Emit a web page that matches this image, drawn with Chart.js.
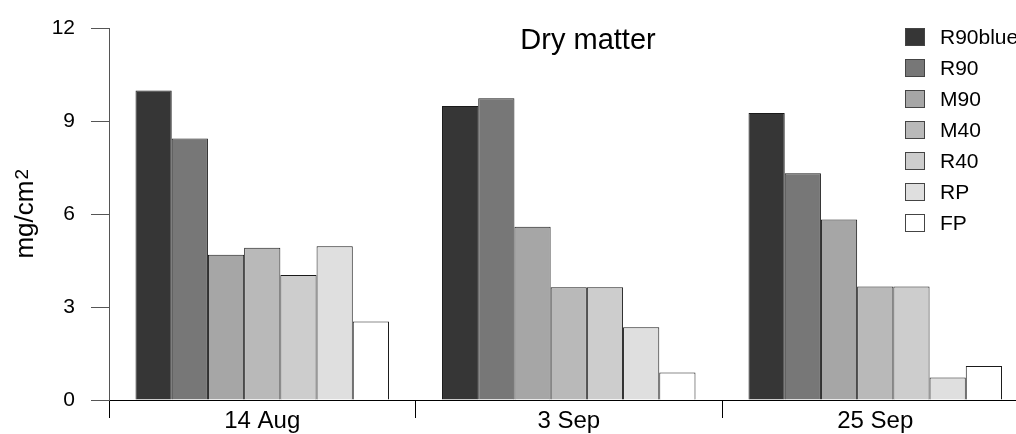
<!DOCTYPE html>
<html>
<head>
<meta charset="utf-8">
<script src="https://cdn.jsdelivr.net/npm/chart.js@4/dist/chart.umd.min.js"></script>
<style>
  html, body { margin: 0; padding: 0; background: #fff; overflow: hidden; }
  #wrap { width: 1016px; height: 434px; overflow: hidden; }
</style>
</head>
<body>
<div id="wrap"><canvas id="chart" width="1040" height="434"></canvas></div>
<script>
const dates = ["14 Aug", "3 Sep", "25 Sep"];
const seriesNames = ["R90blue", "R90", "M90", "M40", "R40", "RP", "FP"];
const seriesColors = ["#363636", "#777777", "#a6a6a6", "#b9b9b9", "#cdcdcd", "#dfdfdf", "#ffffff"];
const r90blue = [10.0, 9.5, 9.27];
const r90 = [8.45, 9.75, 7.33];
const m90 = [4.69, 5.6, 5.83];
const m40 = [4.92, 3.64, 3.67];
const r40 = [4.04, 3.64, 3.67];
const rp = [4.97, 2.35, 0.73];
const fp = [2.54, 0.89, 1.1];
const yTicks = [0, 3, 6, 9, 12];
const chartTitle = "Dry matter";
const yLabel = "mg/cm";
const yLabelSup = "2";

const seriesValues = [r90blue, r90, m90, m40, r40, rp, fp];
const font = "'Liberation Sans', Arial, sans-serif";

const datasets = seriesNames.map((name, i) => ({
    label: name,
    data: seriesValues[i],
    backgroundColor: seriesColors[i],
    borderColor: "#1a1a1a",
    borderWidth: 1,
    barPercentage: 1.0,
    categoryPercentage: 0.827,
}));

// title, legend and y axis label drawn by hand
const overlay = {
    id: "overlay",
    afterDraw(chart) {
        const ctx = chart.ctx;
        const area = chart.chartArea;
        ctx.save();
        ctx.fillStyle = "#000";
        ctx.font = "29px " + font;
        ctx.textAlign = "center";
        ctx.textBaseline = "alphabetic";
        ctx.fillText(chartTitle, 588, 49);

        ctx.font = "21px " + font;
        ctx.textAlign = "left";
        ctx.textBaseline = "middle";
        chart.data.datasets.forEach((ds, i) => {
            const y = 37 + i * 31;
            ctx.fillStyle = ds.backgroundColor;
            ctx.fillRect(905.5, y - 8.5, 19, 17);
            ctx.strokeStyle = "#444";
            ctx.lineWidth = 1;
            ctx.strokeRect(905.5, y - 8.5, 19, 17);
            ctx.fillStyle = "#000";
            ctx.fillText(ds.label, 940, y + 1);
        });

        // y axis label with superscript
        ctx.translate(33, (area.top + area.bottom) / 2);
        ctx.rotate(-Math.PI / 2);
        ctx.textBaseline = "alphabetic";
        ctx.textAlign = "left";
        ctx.font = "26px " + font;
        const w1 = ctx.measureText(yLabel).width;
        ctx.font = "19px " + font;
        const w2 = ctx.measureText(yLabelSup).width;
        const start = -(w1 + w2) / 2;
        ctx.font = "26px " + font;
        ctx.fillText(yLabel, start, 0);
        ctx.font = "19px " + font;
        ctx.fillText(yLabelSup, start + w1 + 1, -5);
        ctx.restore();
    }
};

new Chart(document.getElementById("chart"), {
    type: "bar",
    data: { labels: dates, datasets: datasets },
    options: {
        responsive: false,
        animation: false,
        devicePixelRatio: 1,
        layout: { padding: { top: 26, right: 11.5, left: 0, bottom: 0 } },
        plugins: {
            legend: { display: false },
            tooltip: { enabled: false },
        },
        scales: {
            x: {
                offset: true,
                grid: {
                    offset: true,
                    drawOnChartArea: false,
                    drawTicks: true,
                    tickLength: 18,
                    color: "#000",
                },
                border: { display: true, color: "#000", width: 1 },
                ticks: {
                    color: "#000",
                    font: { family: font, size: 24 },
                    padding: -11,
                    maxRotation: 0,
                },
                afterFit(scale) { scale.height = 34; },
            },
            y: {
                min: 0,
                max: 12,
                afterBuildTicks(scale) {
                    scale.ticks = yTicks.map(v => ({ value: v }));
                },
                grid: {
                    drawOnChartArea: false,
                    drawTicks: true,
                    tickLength: 18,
                    color: "#555",
                },
                border: { display: true, color: "#555", width: 1 },
                ticks: {
                    color: "#000",
                    font: { family: font, size: 21 },
                    padding: 16,
                },
                afterFit(scale) { scale.width = 109; },
            },
        },
    },
    plugins: [overlay],
});
</script>
</body>
</html>
